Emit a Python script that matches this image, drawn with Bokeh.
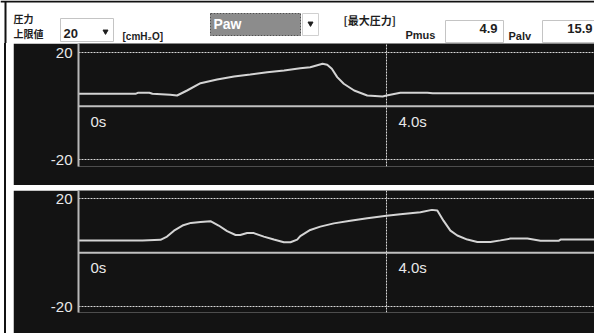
from bokeh.plotting import figure
from bokeh.layouts import column, row
from bokeh.models import Range1d, FixedTicker, Grid, Span, Div
from bokeh.core.properties import value
from bokeh.embed import file_html
from bokeh.resources import INLINE

# ---- data ----
top_t = [0.0, 0.74, 0.77, 0.92, 0.96, 1.19, 1.28, 1.41, 1.585, 1.80, 2.02, 2.23, 2.45,
         2.67, 2.88, 3.01, 3.17, 3.23, 3.29, 3.36, 3.445, 3.58, 3.75, 3.95, 4.0, 4.18,
         4.53, 4.6, 6.7]
top_v = [4.63, 4.63, 5.0, 5.0, 4.63, 4.25, 4.0, 5.87, 8.6, 10.0, 11.1, 11.87, 12.7,
         13.4, 14.2, 14.6, 15.9, 15.5, 14.0, 10.9, 8.4, 5.87, 4.0, 3.6, 4.0, 5.0,
         5.0, 4.85, 4.85]

bot_t = [0.0, 0.83, 1.065, 1.15, 1.24, 1.35, 1.46, 1.585, 1.714, 1.82, 1.93, 2.04, 2.10,
         2.19, 2.277, 2.407, 2.537, 2.667, 2.753, 2.84, 2.88, 3.01, 3.14, 3.316, 3.53,
         3.75, 4.0, 4.18, 4.44, 4.59, 4.66, 4.74, 4.83, 4.92, 5.05, 5.18, 5.35, 5.48,
         5.61, 5.83, 6.0, 6.24, 6.26, 6.7]
bot_v = [4.51, 4.6, 4.8, 6.0, 8.2, 10.1, 11.07, 11.4, 11.7, 10.1, 8.0, 6.6, 6.6,
         7.36, 7.3, 6.0, 4.9, 3.9, 3.9, 4.9, 6.2, 8.47, 9.7, 10.9, 11.9,
         12.8, 13.7, 14.3, 15.0, 15.9, 15.65, 11.9, 8.2, 6.4, 4.9, 4.0, 4.0, 4.6,
         5.26, 5.26, 4.5, 4.5, 4.9, 4.9]

y_ticks = [-20, 20]
time_ticks = [0.0, 4.0]
time_labels = ["0s", "4.0s"]
cursor_time = [4.0]

pressure_limit = "20"
unit_label = "[cmH\u2082O]"
mode_label = "Paw"
max_title = "[最大圧力]"
pmus_label, pmus_value = "Pmus", "4.9"
palv_label, palv_value = "Palv", "15.9"

BG = "#131313"
LINE = "#d4d4d4"
DOT = "#d8d8d8"
INK = "#1e1e1e"
SANS = value("Liberation Sans")
CJK = value("Noto Sans CJK JP")
W = 594

# ---- header ----
h = figure(width=W, height=43, x_range=Range1d(0, W), y_range=Range1d(43, 0),
           output_backend="svg", toolbar_location=None, x_axis_location=None,
           y_axis_location=None, min_border=0, outline_line_color=None,
           background_fill_color="white", border_fill_color="white")
h.grid.visible = False
h.segment(x0=[0, 5], y0=[1, 1], x1=[W, 5], y1=[1, 43], line_color="#111111",
          line_width=2)
h.quad(left=[60, 445, 542], right=[113, 503, 600], top=[18, 20, 20], bottom=[41, 42, 42],
       fill_color="white", line_color="#c4c4c4", line_width=1)
h.quad(left=[210], right=[300], top=[13], bottom=[35], fill_color="#8c8c8c",
       line_color="#505050", line_dash="2 1", line_width=1)
h.quad(left=[302], right=[318], top=[13], bottom=[35], fill_color="white",
       line_color="#d0d0d0", line_width=1)
h.scatter(x=[105, 310], y=[31, 23], marker="inverted_triangle", size=5, color=INK)
h.text(x=[13, 13], y=[17.5, 33], text=["圧力", "上限値"], text_font=CJK,
       text_font_size="10px", text_font_style="bold", text_baseline="middle",
       text_color=INK)
h.text(x=[343], y=[19], text=[max_title], text_font=CJK, text_font_size="11px",
       text_font_style="bold", text_baseline="middle", text_color=INK)
h.text(x=[63], y=[32.5], text=[pressure_limit], text_font=SANS, text_font_size="13px",
       text_font_style="bold", text_baseline="middle", text_color=INK)
h.text(x=[122], y=[35.5], text=[unit_label], text_font=SANS, text_font_size="10px",
       text_font_style="bold", text_baseline="middle", text_color=INK)
h.text(x=[213], y=[23], text=[mode_label], text_font=SANS, text_font_size="14px",
       text_font_style="bold", text_baseline="middle", text_color="white")
h.text(x=[405, 508], y=[34.5, 35], text=[pmus_label, palv_label], text_font=SANS,
       text_font_size="11px", text_font_style="bold", text_baseline="middle",
       text_color=INK)
h.text(x=[497, 592], y=[28, 28], text=[pmus_value, palv_value], text_font=SANS,
       text_font_size="13px", text_font_style="bold", text_baseline="middle",
       text_align="right", text_color=INK)


def panel(t, v, y0, y1, height, mb, margin):
    p = figure(width=W - 13, height=height, x_range=Range1d(0, 516 / 77),
               y_range=Range1d(y0, y1), output_backend="svg", toolbar_location=None,
               x_axis_location=None, y_axis_location="left", min_border_left=65,
               min_border_right=0, min_border_top=0, min_border_bottom=mb,
               background_fill_color=BG, border_fill_color=BG,
               outline_line_color=None, margin=margin)
    p.xgrid.visible = False
    p.ygrid.visible = False
    ax = p.yaxis[0]
    ax.ticker = FixedTicker(ticks=y_ticks)
    ax.major_label_overrides = {tk: str(tk) for tk in y_ticks}
    ax.major_tick_in = 0
    ax.major_tick_out = 0
    ax.minor_tick_in = 0
    ax.minor_tick_out = 0
    ax.axis_line_color = "#b8b8b8"
    ax.axis_line_width = 2
    ax.major_label_standoff = 6
    ax.major_label_text_font = "Liberation Sans"
    ax.major_label_text_font_size = "15px"
    ax.major_label_text_color = "#e8e8e8"
    p.add_layout(Grid(dimension=1, ticker=FixedTicker(ticks=y_ticks),
                      grid_line_color=DOT, grid_line_dash="2 1", grid_line_width=1))
    p.add_layout(Grid(dimension=0, ticker=FixedTicker(ticks=cursor_time),
                      grid_line_color=DOT, grid_line_dash="2 1", grid_line_width=1))
    p.add_layout(Span(location=0, dimension="width", line_color="#c0c0c0",
                      line_width=2))
    p.line(t, v, line_color=LINE, line_width=2)
    p.text(x=time_ticks, y=[0, 0], text=time_labels, x_offset=12, y_offset=15,
           text_font=SANS, text_font_size="15px", text_baseline="middle",
           text_color="#e8e8e8")
    return p


top = panel(top_t, top_v, -22.62, 23.49, 142, 19, (0, 0, 0, 0))
bot = panel(bot_t, bot_v, -22.12, 23.08, 143, 21, (5, 0, 0, 0))

edge = Div(text="", width=2, height=290, margin=(0, 7, 0, 4),
           styles={"background-color": "#111111"})
panels = row(edge, column(top, bot))
open("out.html", "w").write(file_html([h, panels], INLINE))
